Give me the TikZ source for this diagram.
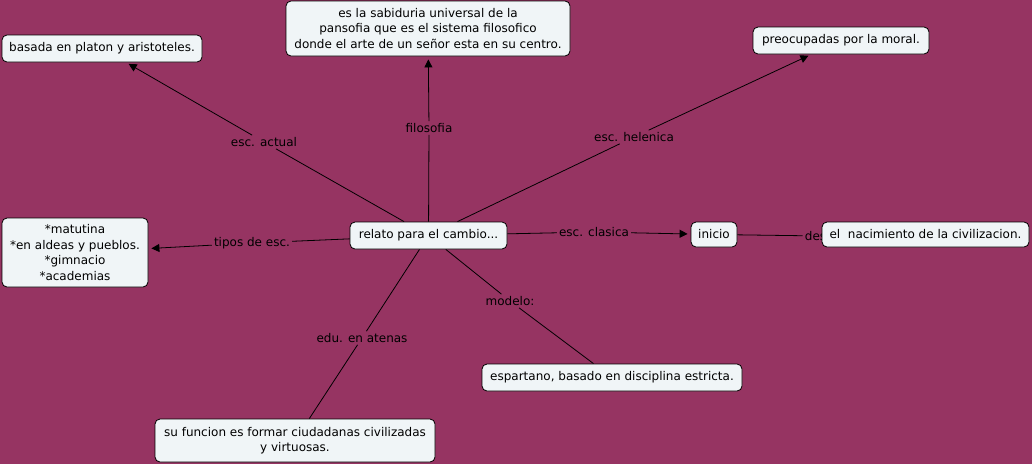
\documentclass[tikz,border=0pt]{standalone}
\usepackage{fontspec}
\setmainfont{DejaVu Sans}
\usetikzlibrary{arrows.meta}
\definecolor{bgc}{RGB}{150,52,98}
\definecolor{boxfill}{RGB}{240,245,247}
\begin{document}
\begin{tikzpicture}[x=1pt,y=-1pt,
  font=\fontsize{12}{15.5}\selectfont,
  box/.style={draw=black, line width=0.8pt, fill=boxfill, rounded corners=5pt, align=center, inner sep=0pt},
  lab/.style={inner sep=2pt, text=black},
  conn/.style={line width=0.8pt, draw=black},
  arr/.style={conn, -{Triangle[length=8pt,width=8pt]}, shorten >=3pt}]
\fill[bgc] (0,0) rectangle (1032,464);
\useasboundingbox (0,0) rectangle (1032,464);
% labels
\node[lab] (la) at (264,142) {esc. actual};
\node[lab] (lf) at (429,128) {filosofia};
\node[lab] (lh) at (634,137) {esc. helenica};
\node[lab] (lt) at (252,243) {tipos de esc.};
\node[lab] (lc) at (594,232) {esc. clasica};
\node[lab] (lm) at (510,301) {modelo:};
\node[lab] (le) at (362,338) {edu. en atenas};
\node[lab] (ld) at (823,236) {desde};
% boxes
\node[box, minimum width=157pt, minimum height=27pt] (c) at (428.5,235.5) {relato para el cambio...};
\node[box, minimum width=200pt, minimum height=27pt] (a) at (102,48.5) {basada en platon y aristoteles.};
\node[box, minimum width=284pt, minimum height=55pt] (f) at (428,28.5) {es la sabiduria universal de la\\pansofia que es el sistema filosofico\\donde el arte de un señor esta en su centro.};
\node[box, minimum width=176pt, minimum height=27pt] (h) at (841,40.5) {preocupadas por la moral.};
\node[box, minimum width=146pt, minimum height=69pt] (t) at (75,252.5) {*matutina\\*en aldeas y pueblos.\\*gimnacio\\*academias};
\node[box, minimum width=46pt, minimum height=25pt] (i) at (714,234.5) {inicio};
\node[box, minimum width=207pt, minimum height=25pt] (n) at (925.5,234.5) {el\ \ nacimiento de la civilizacion.};
\node[box, minimum width=260pt, minimum height=27pt] (e) at (612,377.5) {espartano, basado en disciplina estricta.};
\node[box, minimum width=280pt, minimum height=43pt] (s) at (295,440.5) {su funcion es formar ciudadanas civilizadas\\y virtuosas.};
% connectors
\draw[conn] (c) -- (la);
\draw[arr] (la) -- (a);
\draw[conn] (c) -- (lf);
\draw[arr] (lf) -- (f);
\draw[conn] (c) -- (lh);
\draw[arr] (lh) -- (h);
\draw[conn] (c) -- (lt);
\draw[arr] (lt) -- (t);
\draw[conn] (c) -- (lc);
\draw[arr] (lc) -- (i);
\draw[conn] (c) -- (lm);
\draw[conn] (lm) -- (e);
\draw[conn] (c) -- (le);
\draw[conn] (le) -- (s);
\draw[conn] (i) -- (ld);
\end{tikzpicture}
\end{document}
